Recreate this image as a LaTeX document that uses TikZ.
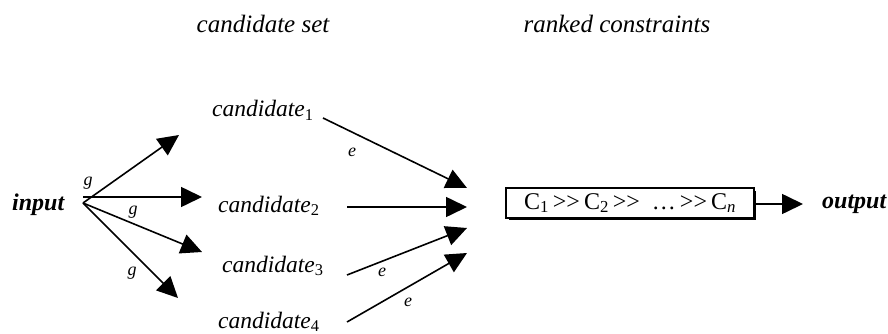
\documentclass[tikz,border=0pt]{standalone}
\usepackage{fontspec}
\setmainfont{Liberation Serif}
\usetikzlibrary{arrows.meta}
\begin{document}
\begin{tikzpicture}[x=1pt,y=-1pt,
  arr/.style={line width=1.6pt,-{Triangle[length=21pt,width=20pt]}},
  cand/.style={font=\fontsize{23.5}{26}\selectfont\itshape, anchor=base west, inner sep=0pt},
  hdr/.style={font=\fontsize{25}{28}\selectfont\itshape, anchor=base, inner sep=0pt},
  lab/.style={font=\fontsize{18}{20}\selectfont\itshape, inner sep=0pt},
  io/.style={font=\fontsize{24}{26}\selectfont\bfseries\itshape, anchor=base west, inner sep=0pt},
  cbox/.style={draw, line width=1.5pt, fill=white, minimum width=248pt, minimum height=30pt, inner sep=0pt, font=\fontsize{24}{26}\selectfont}]
\useasboundingbox (0,0) rectangle (888,334);
\node[hdr] (h1) at (263,33) {candidate set};
\node[hdr] (h2) at (617,33) {ranked constraints};
\node[io] (in) at (12,210) {input};
\coordinate (o) at (83,203);
\coordinate (o2) at (83,197);
\coordinate (t1) at (179,135);
\coordinate (t2) at (202,197);
\coordinate (t3) at (202,252);
\coordinate (t4) at (178,298);
\draw[arr] (o) -- (t1);
\draw[arr] (o2) -- (t2);
\draw[arr] (o) -- (t3);
\draw[arr] (o) -- (t4);
\node[lab] (g1) at (88,183) {g};
\node[lab] (g2) at (133,212) {g};
\node[lab] (g3) at (132,273) {g};
\node[cand] (c1) at (212,117) {candidate\textsubscript{\upshape 1}};
\node[cand] (c2) at (218,212) {candidate\textsubscript{\upshape 2}};
\node[cand] (c3) at (222,272) {candidate\textsubscript{\upshape 3}};
\node[cand] (c4) at (218,328) {candidate\textsubscript{\upshape 4}};
\coordinate (s1) at (323,118);
\coordinate (s2) at (347,207);
\coordinate (s3) at (347,275);
\coordinate (s4) at (347,322);
\coordinate (e1) at (467,188);
\coordinate (e2) at (467,207);
\coordinate (e3) at (467,228);
\coordinate (e4) at (467,253);
\draw[arr] (s1) -- (e1);
\draw[arr] (s2) -- (e2);
\draw[arr] (s3) -- (e3);
\draw[arr] (s4) -- (e4);
\node[lab] (l1) at (352,152) {e};
\node[lab] (l2) at (382,272) {e};
\node[lab] (l3) at (408,302) {e};
\fill (509,191) rectangle (756,220);
\node[cbox] (bx) at (630,203) {C\textsubscript{1}\,>{}>\,C\textsubscript{2}\,>{}>\enspace\ldots\,>{}>\,C\textsubscript{\textit{n}}};
\coordinate (ot) at (803,204);
\draw[arr] (bx.east |- ot) -- (ot);
\node[io] (out) at (822,208) {output};
\end{tikzpicture}
\end{document}
